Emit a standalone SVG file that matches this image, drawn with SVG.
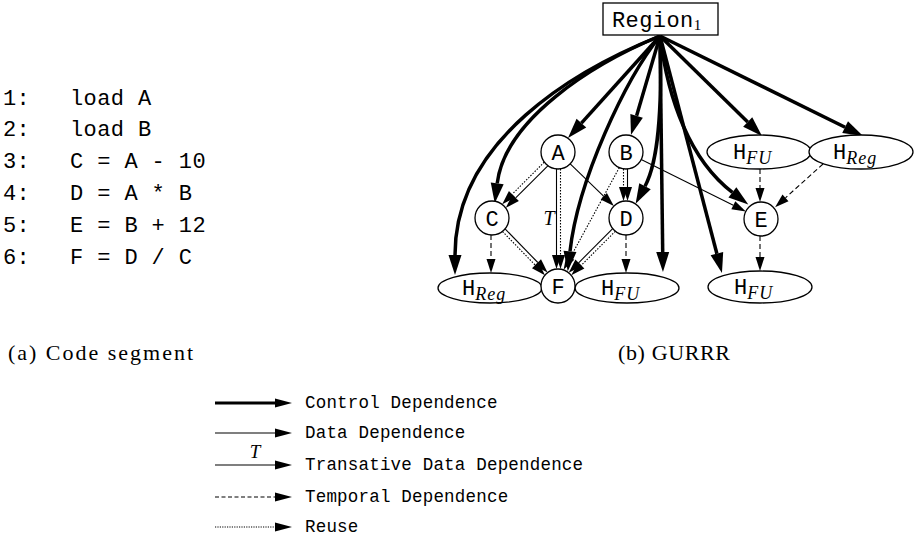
<svg xmlns="http://www.w3.org/2000/svg" width="916" height="541" viewBox="0 0 916 541">
<style>
.mono{font-family:"Liberation Mono","DejaVu Sans Mono",monospace;fill:#000}
.code{font-size:22px;letter-spacing:0.4px}
.leg{font-size:17.5px;letter-spacing:0.2px}
.lbl{font-size:22px;text-anchor:middle}
.it{font-family:"Liberation Serif","DejaVu Serif",serif;font-style:italic}
.serif{font-family:"Liberation Serif","DejaVu Serif",serif;fill:#000}
.node{fill:#fff;stroke:#000;stroke-width:1.3}
.ctl{fill:none;stroke:#000;stroke-width:3.5;marker-end:url(#ah)}
.dat{fill:none;stroke:#000;stroke-width:1.1;marker-end:url(#at)}
.tmp{fill:none;stroke:#000;stroke-width:1.1;stroke-dasharray:5 3;marker-end:url(#at)}
.reu{fill:none;stroke:#000;stroke-width:1.1;stroke-dasharray:1.5 1.5;marker-end:url(#at)}
.lctl{fill:none;stroke:#000;stroke-width:3;marker-end:url(#al)}
.ldat{fill:none;stroke:#000;stroke-width:1.1;marker-end:url(#al)}
</style>
<defs>
<marker id="ah" markerUnits="userSpaceOnUse" markerWidth="22" markerHeight="16" refX="0" refY="7" orient="auto" overflow="visible"><path d="M0,0.5 L20,7 L0,13.5 z" fill="#000"/></marker>
<marker id="at" markerUnits="userSpaceOnUse" markerWidth="16" markerHeight="10" refX="0" refY="4.5" orient="auto" overflow="visible"><path d="M0,0 L14,4.5 L0,9 z" fill="#000"/></marker>
<marker id="al" markerUnits="userSpaceOnUse" markerWidth="18" markerHeight="10" refX="0" refY="4.5" orient="auto" overflow="visible"><path d="M0,0 L17,4.5 L0,9 z" fill="#000"/></marker>
</defs>

<g id="code">
<text class="mono code" x="3" y="105">1:</text><text class="mono code" x="70" y="105">load A</text>
<text class="mono code" x="3" y="136">2:</text><text class="mono code" x="70" y="136">load B</text>
<text class="mono code" x="3" y="168">3:</text><text class="mono code" x="70" y="168">C = A - 10</text>
<text class="mono code" x="3" y="200">4:</text><text class="mono code" x="70" y="200">D = A * B</text>
<text class="mono code" x="3" y="232">5:</text><text class="mono code" x="70" y="232">E = B + 12</text>
<text class="mono code" x="3" y="264">6:</text><text class="mono code" x="70" y="264">F = D / C</text>
</g>

<g id="connectors">
<!-- control -->
<path class="ctl" d="M660,36 L581.4,123.1"/>
<path class="ctl" d="M660,36 L636.6,115.8"/>
<path class="ctl" d="M660,36 L747.7,122"/>
<path class="ctl" d="M660,36 L845.1,127.2"/>
<path class="ctl" d="M660,36 L662.7,252"/>
<path class="ctl" d="M660,36 C590,65 505,120 497.2,183.4"/>
<path class="ctl" d="M660,36 C575,70 455,140 455,255"/>
<path class="ctl" d="M660,36 C625,80 578,180 570,251.4"/>
<path class="ctl" d="M660,36 C662,100 660,158 645,186.2"/>
<path class="ctl" d="M660,36 C668,100 690,160 732.4,192.4"/>
<path class="ctl" d="M660,36 L716.9,253.7"/>
<!-- data / reuse -->
<path class="dat" d="M547.8,165.8 L515.7,197.9"/>
<path class="reu" d="M544.2,162.2 L512.1,194.3"/>
<path class="dat" d="M570.2,163.8 L603.8,196.3"/>
<path class="dat" d="M556.5,169 L556.5,255"/>
<path class="reu" d="M560.5,169 L560.5,255"/>
<path class="dat" d="M627.5,169 L627.5,187"/>
<path class="reu" d="M623.5,169 L623.5,187"/>
<path class="reu" d="M619.3,167.6 L570.3,257.5"/>
<path class="dat" d="M641.2,159.6 L733.3,205.2"/>
<path class="dat" d="M505.1,228.9 L537.8,262.5"/>
<path class="reu" d="M502.5,231.5 L535.2,265.1"/>
<path class="reu" d="M615.3,231.3 L581.2,265.4"/>
<path class="dat" d="M612.7,228.7 L578.6,262.8"/>
<!-- temporal -->
<path class="tmp" d="M491,235 L491,259"/>
<path class="tmp" d="M626,235 L626,259"/>
<path class="tmp" d="M760,169 L760,188"/>
<path class="tmp" d="M823,164 L785.5,197.8"/>
<path class="tmp" d="M760,236 L760,257"/>
<text class="it" x="549" y="225" font-size="20" text-anchor="middle">T</text>
</g>

<g id="region">
<rect class="node" x="603" y="3" width="115" height="32"/>
<text class="mono code" x="612" y="27">Region<tspan class="serif" font-size="15" letter-spacing="0" dy="3">1</tspan></text>
</g>
<g id="nA"><circle class="node" cx="558" cy="152" r="17"/><text class="mono lbl" x="558" y="159.5">A</text></g>
<g id="nB"><circle class="node" cx="626" cy="152" r="17"/><text class="mono lbl" x="626" y="159.5">B</text></g>
<g id="nC"><circle class="node" cx="492" cy="218" r="17"/><text class="mono lbl" x="492" y="225.5">C</text></g>
<g id="nD"><circle class="node" cx="626" cy="218" r="17"/><text class="mono lbl" x="626" y="225.5">D</text></g>
<g id="nE"><circle class="node" cx="761" cy="219" r="17"/><text class="mono lbl" x="761" y="226.5">E</text></g>
<g id="hRegL"><ellipse class="node" cx="490" cy="288" rx="52" ry="15"/><text class="mono" font-size="22" x="462" y="295">H<tspan class="it" font-size="18" dy="5" letter-spacing="1">Reg</tspan></text></g>
<g id="hFuM"><ellipse class="node" cx="627" cy="288" rx="52" ry="15"/><text class="mono" font-size="22" x="601" y="295">H<tspan class="it" font-size="18" dy="5" letter-spacing="1">FU</tspan></text></g>
<g id="nF"><circle class="node" cx="558" cy="286" r="17"/><text class="mono lbl" x="558" y="293.5">F</text></g>
<g id="hFuT"><ellipse class="node" cx="759" cy="152" rx="52" ry="17"/><text class="mono" font-size="22" x="733" y="159">H<tspan class="it" font-size="18" dy="5" letter-spacing="1">FU</tspan></text></g>
<g id="hRegT"><ellipse class="node" cx="861" cy="152" rx="52" ry="17"/><text class="mono" font-size="22" x="833" y="159">H<tspan class="it" font-size="18" dy="5" letter-spacing="1">Reg</tspan></text></g>
<g id="hFuB"><ellipse class="node" cx="760" cy="287" rx="52" ry="16"/><text class="mono" font-size="22" x="734" y="294">H<tspan class="it" font-size="18" dy="5" letter-spacing="1">FU</tspan></text></g>

<g id="captions">
<text class="serif" x="8" y="360" font-size="22" textLength="185">(a) Code segment</text>
<text class="serif" x="618" y="360" font-size="22" textLength="112">(b) GURRR</text>
</g>

<g id="legend">
<path class="lctl" d="M215,403 L275,403"/>
<path class="ldat" d="M215,433 L275,433"/>
<path class="ldat" d="M215,465 L275,465"/>
<text class="it" x="255" y="458" font-size="19" text-anchor="middle">T</text>
<path class="ldat" d="M215,497 L275,497" stroke-dasharray="4 2.5"/>
<path class="ldat" d="M215,527 L275,527" stroke-dasharray="1.2 1.2"/>
<text class="mono leg" x="305" y="408">Control Dependence</text>
<text class="mono leg" x="305" y="438">Data Dependence</text>
<text class="mono leg" x="305" y="470">Transative Data Dependence</text>
<text class="mono leg" x="305" y="502">Temporal Dependence</text>
<text class="mono leg" x="305" y="532">Reuse</text>
</g>
</svg>
